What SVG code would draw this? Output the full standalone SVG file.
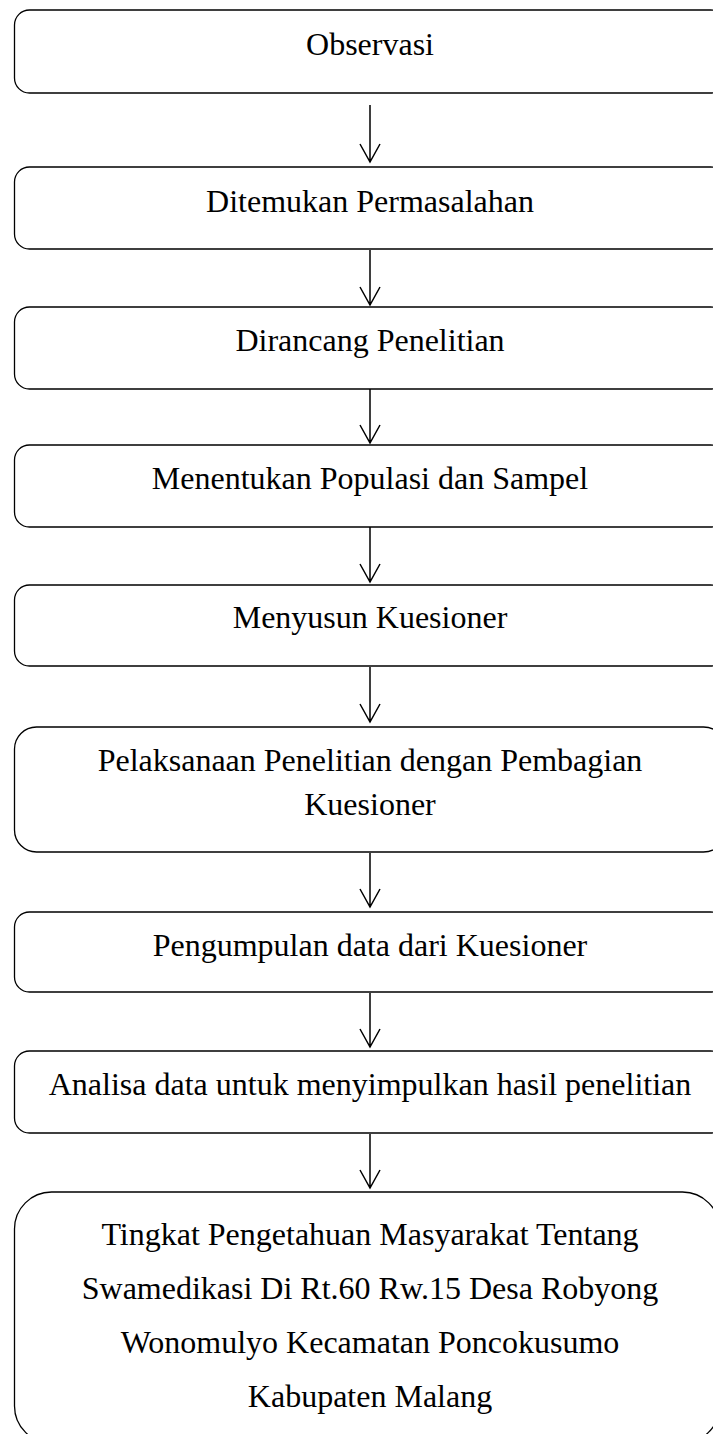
<svg xmlns="http://www.w3.org/2000/svg" width="713" height="1434" viewBox="0 0 713 1434">
<defs>
<style>
.box{fill:#fff;stroke:#000;stroke-width:1.3}
.t{font-family:"Liberation Serif","Times New Roman",serif;font-size:32px;fill:#000;text-anchor:middle}
.c{stroke:#000;stroke-width:1.5;fill:none}
</style>
</defs>
<rect width="713" height="1434" fill="#fff"/>
<g id="n1"><rect class="box" x="14.5" y="10" width="711" height="83" rx="15"/><text class="t" x="370" y="55">Observasi</text></g>
<g id="n2"><rect class="box" x="14.5" y="167" width="711" height="82" rx="15"/><text class="t" x="370" y="212">Ditemukan Permasalahan</text></g>
<g id="n3"><rect class="box" x="14.5" y="307" width="711" height="82" rx="15"/><text class="t" x="370" y="351">Dirancang Penelitian</text></g>
<g id="n4"><rect class="box" x="14.5" y="445" width="711" height="82" rx="15"/><text class="t" x="370" y="489">Menentukan Populasi dan Sampel</text></g>
<g id="n5"><rect class="box" x="14.5" y="585" width="711" height="81" rx="15"/><text class="t" x="370" y="628">Menyusun Kuesioner</text></g>
<g id="n6"><rect class="box" x="14.5" y="727" width="711" height="125" rx="22"/><text class="t" x="370" y="771">Pelaksanaan Penelitian dengan Pembagian</text><text class="t" x="370" y="815">Kuesioner</text></g>
<g id="n7"><rect class="box" x="14.5" y="912" width="711" height="80" rx="15"/><text class="t" x="370" y="956">Pengumpulan data dari Kuesioner</text></g>
<g id="n8"><rect class="box" x="14.5" y="1051" width="711" height="82" rx="15"/><text class="t" x="370" y="1095">Analisa data untuk menyimpulkan hasil penelitian</text></g>
<g id="n9"><rect class="box" x="14.5" y="1192" width="705" height="251" rx="37"/><text class="t" x="370" y="1245">Tingkat Pengetahuan Masyarakat Tentang</text><text class="t" x="370" y="1299">Swamedikasi Di Rt.60 Rw.15 Desa Robyong</text><text class="t" x="370" y="1353">Wonomulyo Kecamatan Poncokusumo</text><text class="t" x="370" y="1407">Kabupaten Malang</text></g>
<g id="connectors" class="c">
<path d="M370 105V162M360 144L370 162L380 144"/>
<path d="M370 250V305M360 287L370 305L380 287"/>
<path d="M370 389V443M360 425L370 443L380 425"/>
<path d="M370 527V582M360 564L370 582L380 564"/>
<path d="M370 667V722M360 704L370 722L380 704"/>
<path d="M370 853V907M360 889L370 907L380 889"/>
<path d="M370 993V1047M360 1029L370 1047L380 1029"/>
<path d="M370 1134V1188M360 1170L370 1188L380 1170"/>
</g>
</svg>
